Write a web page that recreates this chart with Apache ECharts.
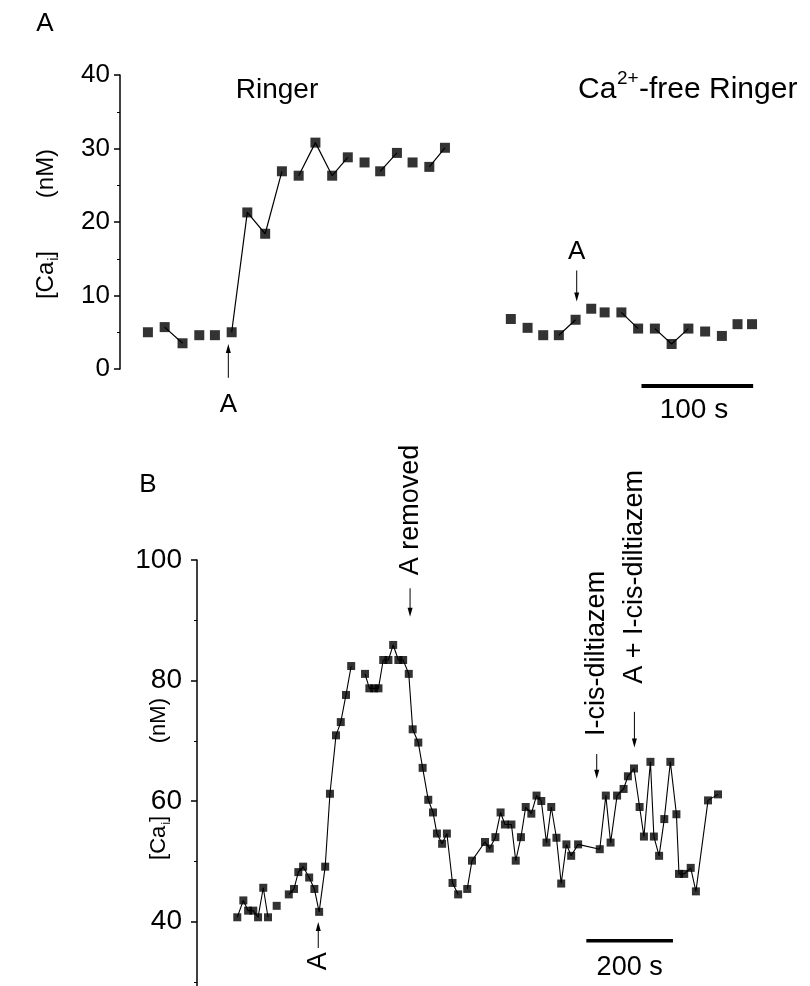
<!DOCTYPE html>
<html>
<head>
<meta charset="utf-8">
<script src="https://cdn.jsdelivr.net/npm/echarts@6/dist/echarts.min.js"></script>
<style>
html,body{margin:0;padding:0;background:#fff;}
#main{width:810px;height:986px;}
</style>
</head>
<body>
<div id="main"></div>
<script>
// panel A, normal Ringer (time in s, [Ca]i in nM)
var ringerTime=[25,40,56,71,85,100,114,130,145,160,175,190,204,219,233,248,262,277,291];
var ringerCa=[5.0,5.7,3.5,4.6,4.6,5.0,21.3,18.4,26.9,26.3,30.8,26.3,28.8,28.1,26.9,29.4,28.1,27.5,30.1];
var ringerJoin=[0,0,1,0,0,0,1,1,1,0,1,1,1,0,0,1,0,0,1];
// panel A, Ca2+-free Ringer
var freeTime=[350,365,379,393,408,422,434,449,464,479,494,509,524,539,553,566];
var freeCa=[6.8,5.6,4.6,4.6,6.7,8.2,7.7,7.7,5.5,5.5,3.4,5.5,5.1,4.5,6.1,6.1];
var freeJoin=[0,0,0,0,1,0,0,0,1,0,1,1,0,0,0,0];
// panel B
var bTime=[93,107,118,130,141,153,164,184,212,224,234,245,259,271,282,296,307,321,332,344,
  356,388,398,409,419,430,442,453,465,476,489,498,511,521,534,545,554,566,577,590,
  603,624,635,665,676,689,701,711,726,736,748,759,772,784,795,807,818,830,841,853,
  864,880,930,944,955,970,985,995,1009,1022,1032,1047,1055,1067,1079,1093,1107,1113,1125,1140,
  1152,1180,1203];
var bCa=[40.7,43.5,41.8,41.8,40.7,45.6,40.7,42.6,44.5,45.4,48.2,49.1,47.3,45.4,41.6,49.1,61.2,70.9,73.1,77.6,
  82.4,81.1,78.7,78.7,78.7,83.4,83.4,85.9,83.4,83.4,81.1,71.9,69.7,65.5,60.2,58.1,54.6,52.9,54.6,46.4,
  44.5,45.4,50.1,53.2,52.1,54.0,58.1,56.1,56.1,50.1,54.0,59.0,57.9,60.9,60.0,53.1,59.0,53.9,46.3,52.8,
  50.9,52.8,52.0,60.9,53.1,60.9,62.0,64.1,65.4,59.0,54.1,66.5,54.1,50.9,57.0,66.5,57.8,47.9,47.9,48.9,
  45.0,60.1,61.1];
var bBreaks=[7,8,21,41]; // index of points not joined to the one before
// axis ticks
var yTicksA={min:0,max:40,step:10};
var yTicksB={min:20,max:100,step:20};

var FONT='Liberation Sans';

function pairs(t,v){
    var out=[];
    for(var i=0;i<t.length;i++)out.push([t[i],v[i]]);
    return out;
}
// line pieces, broken with '-' where two points are not joined
function pieces(t,v,join){
    var out=[];
    for(var i=0;i<t.length;i++){
        if(i>0&&!join[i])out.push([t[i],'-']);
        out.push([t[i],v[i]]);
    }
    return out;
}
var bJoin=bTime.map(function(x,i){return (i==0||bBreaks.indexOf(i)>=0)?0:1;});

function yAxisOf(g,ticks,fs,margin){
    return {
        type:'value',gridIndex:g,min:ticks.min,max:ticks.max,interval:ticks.step,
        axisLine:{show:true,lineStyle:{color:'#000',width:1.5}},
        axisTick:{show:true,length:6,lineStyle:{color:'#000',width:1.5}},
        minorTick:{show:true,splitNumber:2,length:3,lineStyle:{color:'#000',width:1}},
        splitLine:{show:false},
        axisLabel:{color:'#000',fontFamily:FONT,fontSize:fs,margin:margin,
            formatter:function(v){return v<40&&g==1?'':v;}}
    };
}

var chart=echarts.init(document.getElementById('main'));
var option={
    animation:false,
    backgroundColor:'#fff',
    grid:[
        {left:120,top:75,width:670,height:294,outerBoundsMode:'none',containLabel:false},
        {left:197,top:560,width:563,height:482,outerBoundsMode:'none',containLabel:false}
    ],
    xAxis:[
        {type:'value',gridIndex:0,min:0,max:600,show:false},
        {type:'value',gridIndex:1,min:0,max:1300,show:false}
    ],
    yAxis:[yAxisOf(0,yTicksA,26,10),yAxisOf(1,yTicksB,28,15)],
    series:[
        {type:'line',xAxisIndex:0,yAxisIndex:0,data:pieces(ringerTime,ringerCa,ringerJoin),
            symbol:'none',lineStyle:{color:'#000',width:1.2},connectNulls:false},
        {type:'line',xAxisIndex:0,yAxisIndex:0,data:pieces(freeTime,freeCa,freeJoin),
            symbol:'none',lineStyle:{color:'#000',width:1.2},connectNulls:false},
        {type:'scatter',xAxisIndex:0,yAxisIndex:0,data:pairs(ringerTime,ringerCa),
            symbol:'rect',symbolSize:10,itemStyle:{color:'#000'}},
        {type:'scatter',xAxisIndex:0,yAxisIndex:0,data:pairs(freeTime,freeCa),
            symbol:'rect',symbolSize:10,itemStyle:{color:'#000'}},
        {type:'line',xAxisIndex:1,yAxisIndex:1,data:pieces(bTime,bCa,bJoin),
            symbol:'none',lineStyle:{color:'#000',width:1.1},connectNulls:false},
        {type:'scatter',xAxisIndex:1,yAxisIndex:1,data:pairs(bTime,bCa),
            symbol:'rect',symbolSize:8,itemStyle:{color:'#000'}}
    ]
};
chart.setOption(option);

// annotations, placed from data coordinates
function px(g,t,v){return chart.convertToPixel({gridIndex:g},[t,v]);}
function txt(x,y,s,fs,rot){
    return {type:'text',x:x,y:y,rotation:rot||0,
        style:{text:s,fontFamily:FONT,fontSize:fs,fill:'#000',align:'center',verticalAlign:'middle'}};
}
function arrow(x,y1,y2){
    var d=y2>y1?1:-1;
    return [
        {type:'line',shape:{x1:x,y1:y1,x2:x,y2:y2-d*7},style:{stroke:'#000',lineWidth:1}},
        {type:'polygon',shape:{points:[[x-2.5,y2-d*9],[x+2.5,y2-d*9],[x,y2]]},style:{fill:'#000'}}
    ];
}
function bar(g,t1,t2,v,w){
    var a=px(g,t1,v),b=px(g,t2,v);
    return {type:'line',shape:{x1:a[0],y1:a[1],x2:b[0],y2:b[1]},style:{stroke:'#000',lineWidth:w}};
}
// "[Cai]   (nM)" read bottom to top
function caLabel(cx,cy,fs,gapEm){
    var w1=fs*1.556,wi=fs*0.17,w2=fs*0.278,gap=fs*gapEm,w3=fs*2.055;
    var total=w1+wi+w2+gap+w3,x0=-total/2;
    var st=function(s,f){return {text:s,fontFamily:FONT,fontSize:f,fill:'#000',verticalAlign:'middle'};};
    return {type:'group',x:cx,y:cy,rotation:Math.PI/2,children:[
        {type:'text',x:x0,y:0,style:st('[Ca',fs)},
        {type:'text',x:x0+w1+1,y:fs*0.32,style:st('i',fs*0.62)},
        {type:'text',x:x0+w1+wi,y:0,style:st(']',fs)},
        {type:'text',x:x0+w1+wi+w2+gap,y:0,style:st('(nM)',fs)}
    ]};
}
var g=[];
// panel A
g.push(txt(45,24,'A',26));
g.push(caLabel(46,224,24,2.2));
g.push(txt(277,90,'Ringer',28));
g.push({type:'group',x:578,y:90,children:[
    {type:'text',x:0,y:0,style:{text:'Ca',fontFamily:FONT,fontSize:30,fill:'#000',verticalAlign:'middle'}},
    {type:'text',x:39,y:-11,style:{text:'2+',fontFamily:FONT,fontSize:19,fill:'#000',verticalAlign:'middle'}},
    {type:'text',x:61,y:0,style:{text:'-free Ringer',fontFamily:FONT,fontSize:30,fill:'#000',verticalAlign:'middle'}}
]});
var p=px(0,97,-1.2),q=px(0,97,3.4);
g=g.concat(arrow(p[0],p[1],q[1]));
p=px(0,97,-4.9);g.push(txt(p[0],p[1],'A',26));
p=px(0,409,13.4);q=px(0,409,9.2);
g=g.concat(arrow(p[0],p[1],q[1]));
p=px(0,409,15.9);g.push(txt(p[0],p[1],'A',26));
g.push(bar(0,467,567,-2.3,4));
p=px(0,514,-5.6);g.push(txt(p[0],p[1],'100 s',28));
// panel B
g.push(txt(148,485,'B',26));
g.push(caLabel(159,779,22,3.3));
p=px(1,280,35.6);q=px(1,280,39.9);
g=g.concat(arrow(p[0],p[1],q[1]));
p=px(1,280,33.4);g.push(txt(p[0],p[1],'A',27,Math.PI/2));
p=px(1,492,95.3);q=px(1,492,90.6);
g=g.concat(arrow(p[0],p[1],q[1]));
p=px(1,492,108.3);g.push(txt(p[0],p[1],'A removed',27,Math.PI/2));
p=px(1,923,67.8);q=px(1,923,63.7);
g=g.concat(arrow(p[0],p[1],q[1]));
p=px(1,923,84.5);g.push(txt(p[0],p[1],'I-cis-diltiazem',27,Math.PI/2));
p=px(1,1010,74.8);q=px(1,1010,68.9);
g=g.concat(arrow(p[0],p[1],q[1]));
p=px(1,1010,97.2);g.push(txt(p[0],p[1],'A + I-cis-diltiazem',27,Math.PI/2));
g.push(bar(1,899,1099,36.8,3.5));
p=px(1,999,32.3);g.push(txt(p[0],p[1],'200 s',27));
chart.setOption({graphic:g});
</script>
</body>
</html>
